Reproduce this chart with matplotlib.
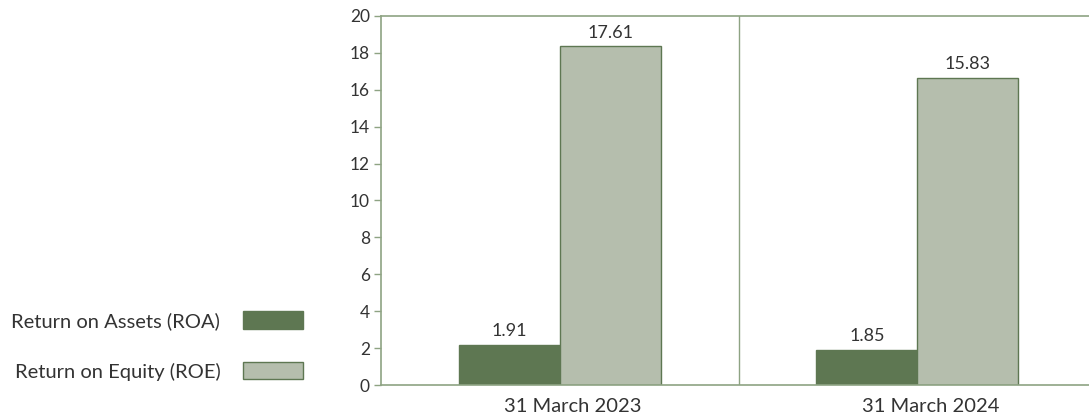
import numpy as np
import matplotlib.pyplot as plt
import matplotlib.transforms as mtransforms
from matplotlib.patches import Patch

plt.rcParams['font.family'] = ['Lato', 'DejaVu Sans']

categories = ["31 March 2023", "31 March 2024"]
series_names = ["Return on Assets (ROA)", "Return on Equity (ROE)"]
# bar heights as drawn in the source chart, and the printed labels
roa_heights = [2.17, 1.90]
roe_heights = [18.37, 16.64]
roa_labels = ["1.91", "1.85"]
roe_labels = ["17.61", "15.83"]

dark = "#5e7752"
light = "#b5bead"
edge = "#5e7752"
spine = "#8ea383"
txt = "#333333"

fig = plt.figure(figsize=(10.89, 4.19), dpi=100)
ax = fig.add_axes([381/1089, 1-385/419, 708/1089, 369/419])

x = np.arange(len(categories))
w = 0.282
b1 = ax.bar(x - w/2, roa_heights, w, color=dark, edgecolor=edge, linewidth=1)
b2 = ax.bar(x + w/2, roe_heights, w, color=light, edgecolor=edge, linewidth=1)

for rect, lab in zip(list(b1) + list(b2), roa_labels + roe_labels):
    ax.text(rect.get_x() + rect.get_width()/2, rect.get_height() + 0.3, lab,
            ha="center", va="bottom", fontsize=13, color=txt)

ax.set_xlim(-0.5, -0.5 + 708/357.5)
ax.set_ylim(0, 20)
ax.set_yticks(range(0, 21, 2))
ax.set_xticks(x)
ax.set_xticklabels(categories, fontsize=14.5, color=txt)
ax.tick_params(axis="x", length=0, pad=9)
ax.tick_params(axis="y", length=5, width=1, color=spine, labelsize=12.5, labelcolor=txt, pad=3)
ax.axvline(0.5, color=spine, linewidth=1)

# category labels sit a little right of the bar pairs in the source
shift = mtransforms.ScaledTranslation(13/100, 0, fig.dpi_scale_trans)
for lbl in ax.get_xticklabels():
    lbl.set_transform(lbl.get_transform() + shift)

for s in ["left", "top", "bottom"]:
    ax.spines[s].set_color(spine)
    ax.spines[s].set_linewidth(1.2)
ax.spines["right"].set_visible(False)

handles = [Patch(facecolor=dark, edgecolor=edge), Patch(facecolor=light, edgecolor=edge)]
fig.legend(handles, series_names, loc="center right", bbox_to_anchor=(313/1089, 1-346/419),
           frameon=False, markerfirst=False, fontsize=14.5, handlelength=3.0,
           handleheight=0.95, labelspacing=1.6, handletextpad=1.1, borderpad=0,
           labelcolor=txt)

fig.savefig("out.png", dpi=100)
